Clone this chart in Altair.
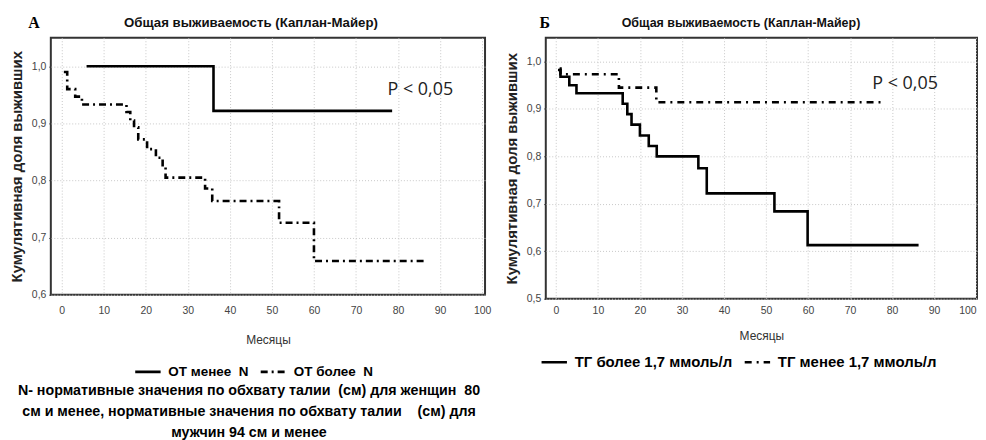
import altair as alt
import pandas as pd

# ---------------- data ----------------
# Panel A (waist circumference)
a_solid_x = [5.9, 36.1, 78.6]
a_solid_y = [1.0, 0.922, 0.922]
a_dash_x = [0.5, 1.3, 3.2, 4.8, 15.4, 16.3, 17.2, 18.2, 20.3, 22.4, 24.0, 24.7,
            34.1, 35.8, 51.7, 60.0, 86.5]
a_dash_y = [0.99, 0.96, 0.947, 0.933, 0.92, 0.905, 0.893, 0.872, 0.855, 0.84,
            0.823, 0.805, 0.786, 0.764, 0.726, 0.659, 0.659]
a_series = ["ОТ менее\u00a0\u00a0N", "ОТ более\u00a0\u00a0N"]

# Panel B (triglycerides)
b_solid_x = [0.5, 1.1, 3.2, 4.9, 15.9, 17.0, 18.0, 20.0, 22.1, 24.0, 33.9, 35.9,
             52.0, 59.9, 86.3]
b_solid_y = [0.982, 0.968, 0.95, 0.933, 0.911, 0.889, 0.867, 0.844, 0.822, 0.80,
             0.775, 0.722, 0.684, 0.613, 0.613]
b_dash_x = [0.9, 1.1, 15.0, 23.9, 78.0]
b_dash_y = [0.985, 0.973, 0.945, 0.914, 0.914]
b_series = ["ТГ более 1,7 ммоль/л", "ТГ менее 1,7 ммоль/л"]

x_ticks = [0, 10, 20, 30, 40, 50, 60, 70, 80, 90, 100]
a_y_ticks = [0.6, 0.7, 0.8, 0.9, 1.0]
b_y_ticks = [0.5, 0.6, 0.7, 0.8, 0.9, 1.0]

title_text = "Общая выживаемость (Каплан-Майер)"
x_title = "Месяцы"
y_title = "Кумулятивная доля выживших"
p_text = "P < 0,05"
note_lines = [
    "N- нормативные значения по обхвату талии\u00a0 (см) для женщин\u00a0 80",
    "см и менее, нормативные значения по обхвату талии\u00a0\u00a0\u00a0 (см) для",
    "мужчин 94 см и менее",
]
letters = ["А", "Б"]

FONT = "Liberation Sans"
label_expr = "replace(format(datum.value, '.1f'), '.', ',')"


def frame(xs1, ys1, xs2, ys2, names):
    rows = []
    for x, y in zip(xs1, ys1):
        rows.append({"t": x, "s": y, "g": names[0]})
    for x, y in zip(xs2, ys2):
        rows.append({"t": x, "s": y, "g": names[1]})
    return pd.DataFrame(rows)


one = pd.DataFrame({"k": [0]})


def text_layer(txt, px, py, font=FONT, size=12, weight="normal", color="black"):
    return alt.Chart(one).mark_text(
        text=txt, font=font, fontSize=size, fontWeight=weight, color=color,
        align="center", baseline="middle").encode(
        x=alt.value(px), y=alt.value(py))


def panel(df, names, xdom, ydom, yticks, w, h, legend_x, legend_y, legend_size,
          p_pos, letter, letter_x, title_x, title_size, dash_pattern, ytitle_size,
          ytitle_pad, xlabel_pad, xtitle_pad, notes=None):
    x = alt.X("t:Q", scale=alt.Scale(domain=xdom, nice=False, zero=False),
              axis=alt.Axis(values=x_ticks, title=x_title, grid=True, ticks=False,
                            tickSize=0, domain=False, labelPadding=xlabel_pad,
                            labelFont=FONT, labelFontSize=10.5, labelColor="#444",
                            titleFont=FONT, titleFontSize=12, titleFontWeight="normal",
                            titleColor="#333", titlePadding=xtitle_pad,
                            gridColor="#c8c8c8", gridDash=[1, 2]))
    y = alt.Y("s:Q", scale=alt.Scale(domain=ydom, nice=False, zero=False),
              axis=alt.Axis(values=yticks, labelExpr=label_expr, title=y_title,
                            grid=True, ticks=True, tickSize=2, tickColor="#333",
                            domain=False, labelPadding=3,
                            labelFont=FONT, labelFontSize=10.5, labelColor="#444",
                            titleFont=FONT, titleFontSize=ytitle_size,
                            titleFontWeight="bold", titleColor="#222",
                            titlePadding=ytitle_pad,
                            gridColor="#c8c8c8", gridDash=[1, 2]))
    lines = alt.Chart(df).mark_line(interpolate="step-after", strokeWidth=2.6,
                                    color="black").encode(
        x=x, y=y,
        strokeDash=alt.StrokeDash(
            "g:N",
            scale=alt.Scale(domain=names, range=[[1, 0], dash_pattern]),
            legend=alt.Legend(title=None, orient="none", legendX=legend_x,
                              legendY=legend_y, direction="horizontal",
                              symbolType="stroke", symbolSize=650,
                              symbolStrokeWidth=2.6, symbolStrokeColor="black",
                              labelFont=FONT, labelFontSize=legend_size,
                              labelFontWeight="bold", labelColor="black",
                              labelOffset=6, columnPadding=6, labelLimit=400)),
    )
    ptxt = alt.Chart(one).mark_text(text=p_text, font="Open Sans", fontSize=18,
                                    color="#222", align="center",
                                    baseline="middle").encode(
        x=alt.datum(p_pos[0]), y=alt.datum(p_pos[1]))
    layers = [
        lines,
        ptxt,
        text_layer(letter, letter_x, -15, font="Liberation Serif", size=16,
                   weight="bold"),
        text_layer(title_text, title_x, -15, size=title_size, weight="bold",
                   color="#111"),
    ]
    if notes is not None:
        for txt, ny in notes:
            layers.append(text_layer(txt, 199, ny, size=14.3, weight="bold"))
    return alt.layer(*layers).properties(width=w, height=h)


df_a = frame(a_solid_x, a_solid_y, a_dash_x, a_dash_y, a_series)
df_b = frame(b_solid_x, b_solid_y, b_dash_x, b_dash_y, b_series)

pa = panel(df_a, a_series, [-2.6, 100.7], [0.6, 1.05], a_y_ticks, 436, 258,
           83, 321, 13.5, (85.3, 0.959), letters[0], -17, 201, 13.3,
           [7, 4, 2, 4], 15, 7, 11, 18,
           notes=list(zip(note_lines, [355, 376, 397])))
pb = panel(df_b, b_series, [-2.4, 100.2], [0.5, 1.05], b_y_ticks, 433, 262,
           -6, 311, 15, (83.1, 0.952), letters[1], -1, 196, 12.5,
           [7, 5, 2, 5], 15, 7, 7, 14)

chart = alt.hconcat(pa, pb, spacing=11).resolve_scale(
    strokeDash="independent", x="independent", y="independent"
).resolve_legend(strokeDash="independent").configure_view(
    stroke="#333", strokeWidth=2
).properties(padding={"left": 0, "top": 5, "right": 0, "bottom": 0},
             background="white")

chart.save("out.html", embed_options={"renderer": "svg", "actions": False})
